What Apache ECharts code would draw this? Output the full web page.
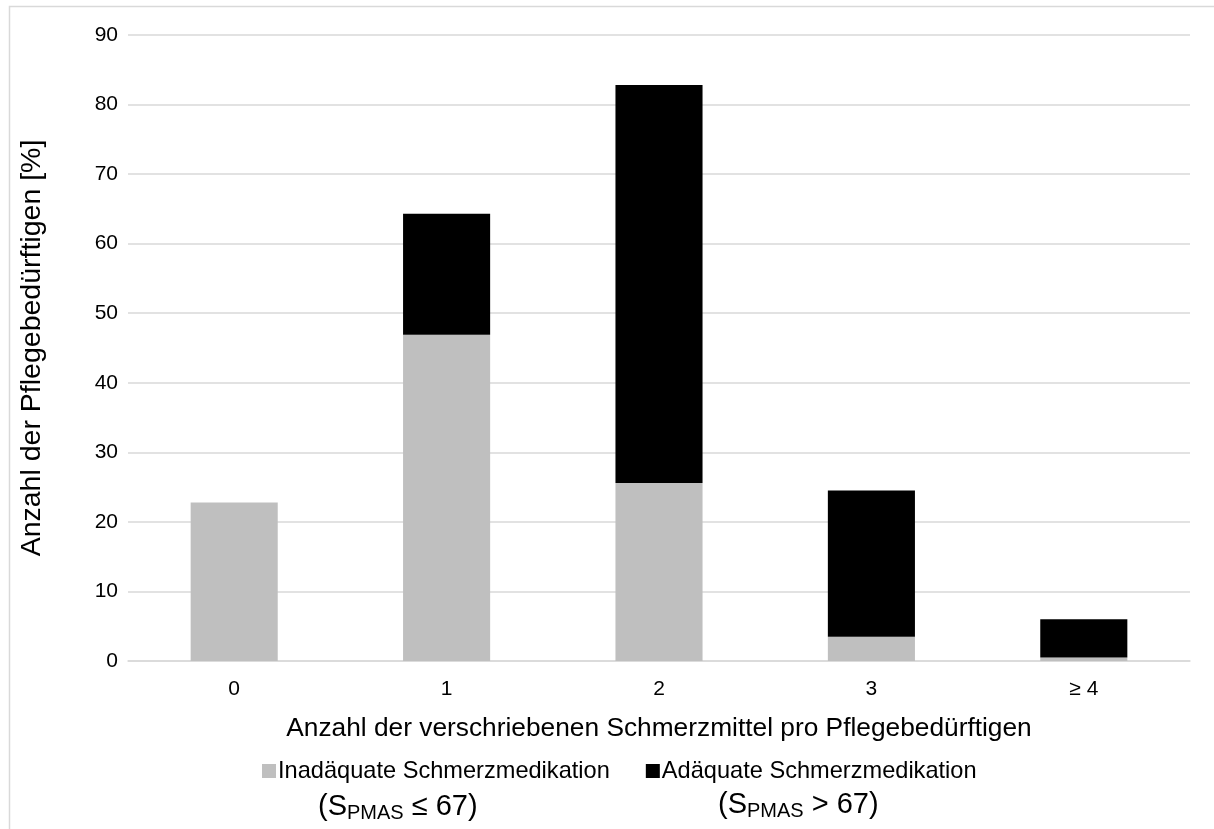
<!DOCTYPE html>
<html>
<head>
<meta charset="utf-8">
<script src="https://cdn.jsdelivr.net/npm/echarts@6/dist/echarts.min.js"></script>
<style>
html,body{margin:0;padding:0;background:#fff;}
#c{width:1214px;height:829px;}
</style>
</head>
<body>
<div id="c"></div>
<script>
const categories = ['0', '1', '2', '3', '≥ 4'];
const inadequate = [22.8, 46.9, 25.6, 3.5, 0.5];
const adequate = [0, 17.4, 57.2, 21.0, 5.5];
const seriesNames = ['Inadäquate Schmerzmedikation', 'Adäquate Schmerzmedikation'];
const yTicks = { min: 0, max: 90, interval: 10 };
const xTitle = 'Anzahl der verschriebenen Schmerzmittel pro Pflegebedürftigen';
const yTitle = 'Anzahl der Pflegebedürftigen [%]';

const FONT = '"Liberation Sans", Arial, sans-serif';
const chart = echarts.init(document.getElementById('c'), null, { renderer: 'canvas' });
chart.setOption({
  backgroundColor: '#fff',
  animation: false,
  textStyle: { fontFamily: FONT },
  grid: { left: 128, right: 24, top: 35, bottom: 168, containLabel: false },
  legend: {
    data: seriesNames,
    left: 257, top: 754,
    icon: 'rect', itemWidth: 14, itemHeight: 14, itemGap: 36,
    textStyle: { fontFamily: FONT, fontSize: 23.6, color: '#000', padding: [0, 0, 0, -3] }
  },
  xAxis: {
    type: 'category',
    data: categories,
    axisLine: { lineStyle: { color: '#d9d9d9', width: 1.5 } },
    axisTick: { show: false },
    axisLabel: { fontFamily: FONT, fontSize: 21, color: '#000', margin: 18 },
    name: xTitle, nameLocation: 'middle', nameGap: 55,
    nameTextStyle: { fontFamily: FONT, fontSize: 26.3, color: '#000' }
  },
  yAxis: {
    type: 'value',
    min: yTicks.min, max: yTicks.max, interval: yTicks.interval,
    axisLine: { show: false }, axisTick: { show: false },
    splitLine: { lineStyle: { color: '#d9d9d9', width: 1.5 } },
    axisLabel: { fontFamily: FONT, fontSize: 21, color: '#000', margin: 10 },
    name: yTitle, nameLocation: 'middle', nameGap: 81, nameRotate: 90,
    nameTextStyle: { fontFamily: FONT, fontSize: 28.5, color: '#000' }
  },
  series: [
    { name: seriesNames[0], type: 'bar', stack: 's', data: inadequate, barWidth: '41%',
      itemStyle: { color: '#bfbfbf' } },
    { name: seriesNames[1], type: 'bar', stack: 's', data: adequate, barWidth: '41%',
      itemStyle: { color: '#000000' } }
  ],
  graphic: [
    { type: 'rect', shape: { x: 9.5, y: 6.5, width: 1400, height: 1000 },
      style: { fill: 'none', stroke: '#d9d9d9', lineWidth: 1.5 }, silent: true },
    { type: 'text', left: 318, top: 792,
      style: { text: '(S{sub|PMAS} ≤ 67)', font: '29px ' + FONT, fill: '#000',
        rich: { sub: { fontSize: 20, fontFamily: FONT, padding: [13, 0, 0, 0] } } } },
    { type: 'text', left: 718, top: 790,
      style: { text: '(S{sub|PMAS} > 67)', font: '29px ' + FONT, fill: '#000',
        rich: { sub: { fontSize: 20, fontFamily: FONT, padding: [13, 0, 0, 0] } } } }
  ]
});
</script>
</body>
</html>
